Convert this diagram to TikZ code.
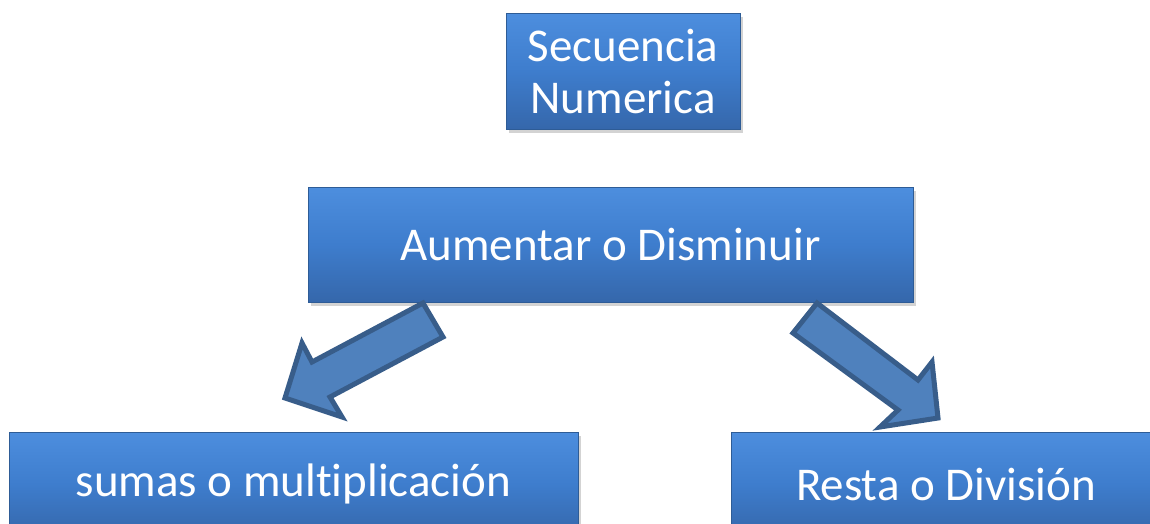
\documentclass[tikz,border=0pt]{standalone}
\usepackage{fontspec}
\setmainfont[Ligatures=CommonOff]{Carlito}
\usetikzlibrary{shadows}
\definecolor{boxtop}{HTML}{4D8EDE}
\definecolor{boxmid}{HTML}{3E7DCD}
\definecolor{boxbot}{HTML}{3567AB}
\definecolor{boxline}{HTML}{2E5C96}
\definecolor{arrfill}{HTML}{4F81BD}
\definecolor{arrline}{HTML}{385D8A}
\tikzset{
  bluebox/.style={draw=boxline, line width=1pt, top color=boxtop, bottom color=boxbot, middle color=boxmid,
    text=white, font=\fontsize{47}{52}\selectfont, align=center, inner sep=0pt,
    drop shadow={opacity=0.35, shadow xshift=3pt, shadow yshift=-4pt}},
  blockarrow/.style={fill=arrfill, draw=arrline, line width=5pt, line join=miter}
}
\begin{document}
\begin{tikzpicture}[x=1pt,y=-1pt]
\useasboundingbox (0,0) rectangle (1150,523);
\clip (0,0) rectangle (1150,523);
\node[bluebox, minimum width=234pt, minimum height=116pt] (top) at (623,71) {Secuencia\\Numerica};
\node[bluebox, minimum width=605pt, minimum height=115pt] (mid) at (610.5,244.5) {Aumentar o Disminuir};
\node[bluebox, minimum width=569pt, minimum height=104pt] (bl) at (293.5,484) {sumas o multiplicación};
\node[bluebox, minimum width=430pt, minimum height=104pt] (br) at (946,484) {Resta o División};
% left block arrow
\draw[blockarrow] (423,303) -- (443,337) -- (330,397) -- (342,417) -- (285,398) -- (302,343) -- (312,362) -- cycle;
% right block arrow
\draw[blockarrow] (817,303) -- (918,380) -- (932,362) -- (938,418) -- (880,427) -- (898,410) -- (793,333) -- cycle;
\end{tikzpicture}
\end{document}
